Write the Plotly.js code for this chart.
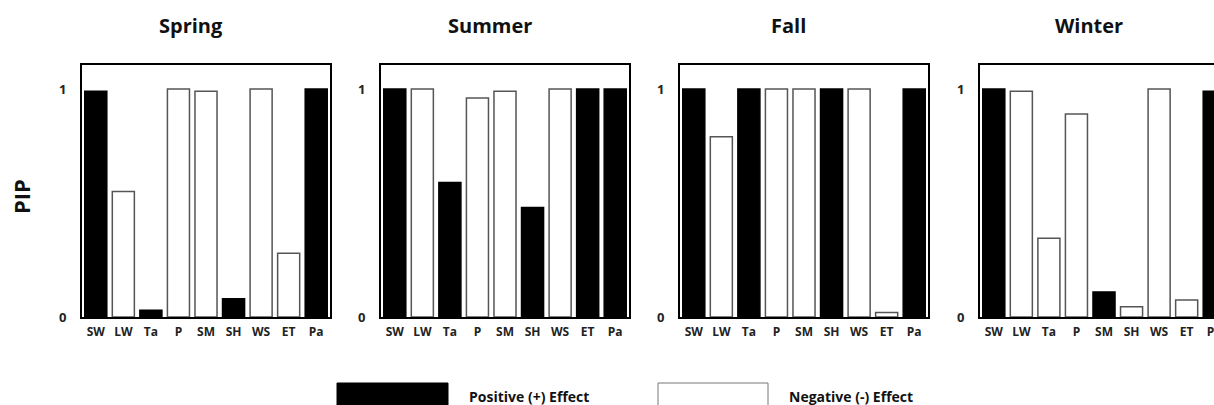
<!DOCTYPE html>
<html>
<head>
<meta charset="utf-8">
<script src="https://cdn.plot.ly/plotly-3.0.1.min.js"></script>
<style>
html,body{margin:0;padding:0;background:#fff;overflow:hidden;}
#wrap{width:1214px;height:405px;overflow:hidden;}
#chart{width:1240px;height:405px;}
</style>
</head>
<body>
<div id="wrap"><div id="chart"></div></div>
<script>
// ---- data ----
const categories = ['SW','LW','Ta','P','SM','SH','WS','ET','Pa'];
const seasons = ['Spring','Summer','Fall','Winter'];
const springPIP = [0.99, 0.55, 0.03, 1.00, 0.99, 0.08, 1.00, 0.28, 1.00];
const springSign = ['+','-','+','-','-','+','-','-','+'];
const summerPIP = [1.00, 1.00, 0.59, 0.96, 0.99, 0.48, 1.00, 1.00, 1.00];
const summerSign = ['+','-','+','-','-','+','-','+','+'];
const fallPIP = [1.00, 0.79, 1.00, 1.00, 1.00, 1.00, 1.00, 0.02, 1.00];
const fallSign = ['+','-','+','-','-','+','-','-','+'];
const winterPIP = [1.00, 0.99, 0.345, 0.89, 0.11, 0.045, 1.00, 0.075, 0.99];
const winterSign = ['+','-','-','-','+','-','-','-','+'];
const yTickVals = [0, 1];
const yTickText = ['0', '1'];
const legendLabels = ['Positive (+) Effect', 'Negative (-) Effect'];

const allPIP = [springPIP, summerPIP, fallPIP, winterPIP];
const allSign = [springSign, summerSign, fallSign, winterSign];

// ---- layout helpers ----
const W = 1240, H = 405;
const px = x => x / W;
const py = y => (H - y) / H;
const panelLeft = [82, 381, 680, 980];
const panelWidth = 248;
const FONT = 'Open Sans, DejaVu Sans, sans-serif';

const traces = [];
const layout = {
  width: W, height: H,
  margin: {l: 0, r: 0, t: 0, b: 0},
  paper_bgcolor: '#fff', plot_bgcolor: '#fff',
  showlegend: false,
  bargap: 0.2,
  font: {family: FONT, color: '#000'},
  annotations: [], shapes: []
};

for (let i = 0; i < 4; i++) {
  const n = i === 0 ? '' : String(i + 1);
  traces.push({
    type: 'bar',
    x: categories,
    y: allPIP[i],
    xaxis: 'x' + n, yaxis: 'y' + n,
    marker: {
      color: allSign[i].map(s => s === '+' ? '#000' : '#fff'),
      line: {color: allSign[i].map(s => s === '+' ? '#000' : '#555'), width: 1.5}
    },
    hoverinfo: 'x+y'
  });
  layout['xaxis' + n] = {
    domain: [px(panelLeft[i]), px(panelLeft[i] + panelWidth)],
    anchor: 'y' + n,
    type: 'category',
    range: [-0.5, 8.5],
    showline: true, mirror: true, linecolor: '#000', linewidth: 2,
    showgrid: false, zeroline: false, ticks: '',
    ticklabelstandoff: 3,
    tickfont: {family: FONT, size: 12, weight: 'bold', color: '#222'},
    fixedrange: true
  };
  layout['yaxis' + n] = {
    domain: [py(317), py(65)],
    anchor: 'x' + n,
    range: [0, 1.105],
    tickvals: yTickVals, ticktext: yTickText,
    showline: true, mirror: true, linecolor: '#000', linewidth: 2,
    showgrid: false, zeroline: false, ticks: '',
    ticklabelstandoff: 11,
    tickfont: {family: FONT, size: 13, weight: 'bold', color: '#222'},
    fixedrange: true
  };
  layout.annotations.push({
    text: seasons[i], xref: 'paper', yref: 'paper',
    x: px(panelLeft[i] + panelWidth / 2 - 15), y: py(25),
    xanchor: 'center', yanchor: 'middle', showarrow: false,
    font: {family: FONT, size: 20, weight: 'bold', color: '#111'}
  });
}

// y axis title
layout.annotations.push({
  text: 'PIP', xref: 'paper', yref: 'paper', x: px(21), y: py(197),
  xanchor: 'center', yanchor: 'middle', showarrow: false, textangle: -90,
  font: {family: FONT, size: 22, weight: 'bold', color: '#111'}
});

// custom legend
layout.shapes.push({
  type: 'rect', xref: 'paper', yref: 'paper',
  x0: px(337), x1: px(448), y0: py(412), y1: py(383),
  fillcolor: '#000', line: {color: '#000', width: 1}
});
layout.shapes.push({
  type: 'rect', xref: 'paper', yref: 'paper',
  x0: px(658), x1: px(768), y0: py(412), y1: py(383),
  fillcolor: '#fff', line: {color: '#777', width: 1}
});
layout.annotations.push({
  text: legendLabels[0], xref: 'paper', yref: 'paper', x: px(467), y: py(396),
  xanchor: 'left', yanchor: 'middle', showarrow: false,
  font: {family: FONT, size: 14, weight: 'bold', color: '#111'}
});
layout.annotations.push({
  text: legendLabels[1], xref: 'paper', yref: 'paper', x: px(787), y: py(396),
  xanchor: 'left', yanchor: 'middle', showarrow: false,
  font: {family: FONT, size: 14, weight: 'bold', color: '#111'}
});

Plotly.newPlot('chart', traces, layout, {displayModeBar: false, staticPlot: true});
</script>
</body>
</html>
